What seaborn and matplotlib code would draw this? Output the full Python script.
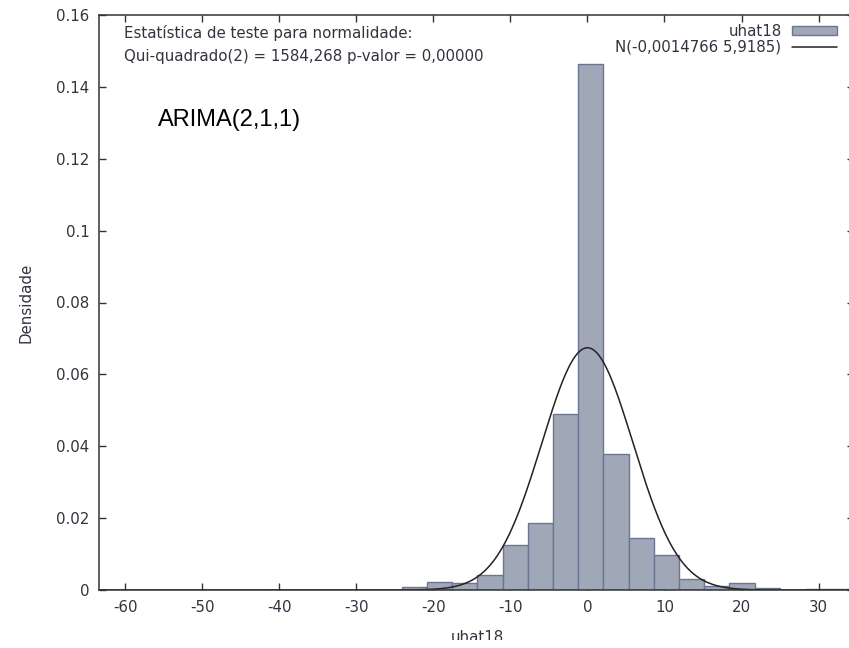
import numpy as np
import pandas as pd
import matplotlib
matplotlib.use("Agg")
import matplotlib.pyplot as plt
from matplotlib.transforms import Bbox
import seaborn as sns

# Histogram of the ARIMA(2,1,1) residuals (uhat18), density scale
bin_start = -24.09
bin_width = 3.27
densities = [0.0008, 0.0023, 0.0019, 0.0042, 0.0124, 0.0186, 0.0491, 0.1463,
             0.0378, 0.0144, 0.0098, 0.0030, 0.0012, 0.0019, 0.0005, 0.0,
             0.0004, 0.0004]

# Fitted normal distribution
norm_mean = -0.0014766
norm_sd = 5.9185

x_ticks = [-60, -50, -40, -30, -20, -10, 0, 10, 20, 30]
y_ticks = [0, 0.02, 0.04, 0.06, 0.08, 0.10, 0.12, 0.14, 0.16]
y_tick_labels = ["0", "0.02", "0.04", "0.06", "0.08", "0.1", "0.12", "0.14", "0.16"]

series_label = "uhat18"
normal_label = "N(-0,0014766 5,9185)"
test_lines = ["Estatística de teste para normalidade:",
              "Qui-quadrado(2) = 1584,268 p-valor = 0,00000"]
model_label = "ARIMA(2,1,1)"

edges = [bin_start + bin_width * i for i in range(len(densities) + 1)]
centers = [(a + b) / 2 for a, b in zip(edges[:-1], edges[1:])]
df = pd.DataFrame({"uhat18": centers, "densidade": densities})

sns.set_theme(style="white")
plt.rcParams["font.family"] = ["DejaVu Sans"]
plt.rcParams["axes.unicode_minus"] = False
FS = 10.8

W, H = 849, 648
fig = plt.figure(figsize=(W / 100, H / 100), dpi=100)
AX_L, AX_R, AX_T, AX_B = 99, 854, 15, 590
ax = fig.add_axes([AX_L / W, (H - AX_B) / H, (AX_R - AX_L) / W, (AX_B - AX_T) / H])

text_color = "#333340"
bar_face = "#a0a7b7"
bar_edge = "#6c7692"

sns.histplot(data=df, x="uhat18", weights="densidade", bins=edges,
             stat="count", color=bar_face, edgecolor=bar_edge, linewidth=1.0,
             alpha=1.0, ax=ax, label=series_label)

xs = np.linspace(-63.4, 34.6, 800)
pdf = np.exp(-0.5 * ((xs - norm_mean) / norm_sd) ** 2) / (norm_sd * np.sqrt(2 * np.pi))
sns.lineplot(x=xs, y=pdf, color="#222222", linewidth=1.1, ax=ax, label=normal_label)

ax.set_xlim(-63.4, 34.6)
ax.set_ylim(0, 0.16)
ax.set_xticks(x_ticks)
ax.set_yticks(y_ticks)
ax.set_yticklabels(y_tick_labels)
ax.set_xlabel("")
ax.set_ylabel("")

for sp in ax.spines.values():
    sp.set_color("#333333")
    sp.set_linewidth(1.1)
ax.tick_params(axis="both", which="major", direction="in", length=5, width=1.0,
               color="#333333", labelcolor=text_color, labelsize=FS,
               top=True, right=True, bottom=True, left=True, pad=7)

# legend: histogram entry first, then the normal curve
handles, labels = ax.get_legend_handles_labels()
order = [labels.index(series_label), labels.index(normal_label)]
ax_w, ax_h = AX_R - AX_L, AX_B - AX_T
leg = ax.legend([handles[i] for i in order], [labels[i] for i in order],
                loc="upper right", frameon=False, markerfirst=False,
                fontsize=FS, handlelength=3.0, handleheight=0.55,
                labelspacing=0.05, borderpad=0, borderaxespad=0,
                handletextpad=0.7,
                bbox_to_anchor=((837 - AX_L) / ax_w, 1.0 - (24 - AX_T) / ax_h))
for t in leg.get_texts():
    t.set_color(text_color)

fig.text(124 / W, 1 - 37.7 / H, test_lines[0], color=text_color, fontsize=FS,
         ha="left", va="baseline")
fig.text(124 / W, 1 - 61 / H, test_lines[1], color=text_color, fontsize=FS,
         ha="left", va="baseline")
fig.text(158 / W, 1 - 126 / H, model_label, color="black", fontsize=17,
         family="Liberation Sans", ha="left", va="baseline")

fig.text(26 / W, 1 - 302.5 / H, "Densidade", color=text_color, fontsize=FS,
         rotation=90, ha="center", va="center")
xl = fig.text(477 / W, 1 - 641.5 / H, "uhat18", color=text_color, fontsize=FS,
              ha="center", va="baseline")
# the axis title sits at the lower edge of the canvas and is cut there
xl.set_clip_box(Bbox.from_extents(0, H - 640, W, H))
xl.set_clip_on(True)

fig.savefig("out.png", dpi=100)
